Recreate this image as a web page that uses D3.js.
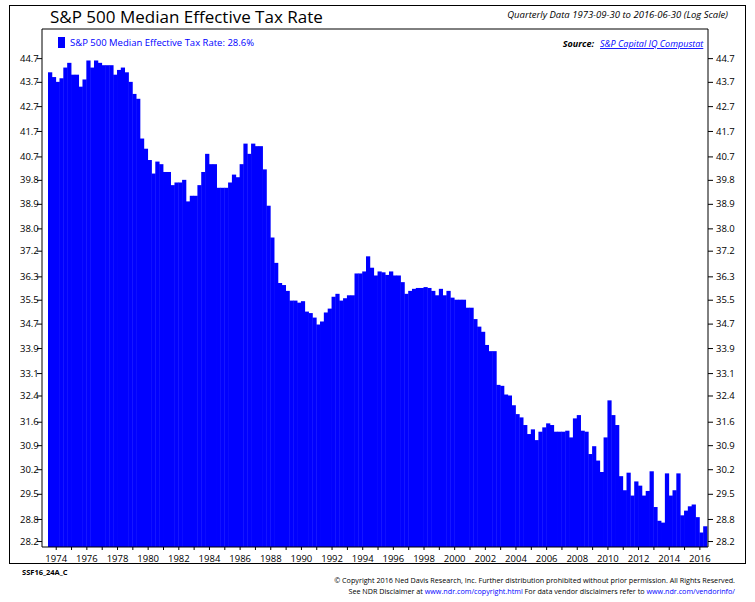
<!DOCTYPE html>
<html><head><meta charset="utf-8">
<script src="https://cdn.jsdelivr.net/npm/d3@7"></script>
<style>body{margin:0;background:#fff}svg{font-family:"Open Sans","Noto Sans",sans-serif}</style>
</head><body><svg id="c" width="755" height="602"></svg>
<script>
const values = [
44.1,43.9,43.7,43.85,44.3,44.5,44.0,44.0,43.5,43.8,44.6,44.3,44.6,44.5,44.4,44.4,44.4,44.0,44.2,44.3,
44.1,43.7,43.2,43.0,41.4,41.0,40.56,40.04,40.5,40.4,40.1,40.1,39.6,39.7,39.7,39.8,38.99,39.2,39.2,39.6,
40.1,40.8,40.4,40.4,39.5,39.5,39.5,39.7,40.0,39.9,40.4,41.2,40.8,41.2,41.1,41.1,40.2,38.83,37.67,36.77,
36.07,36.0,35.8,35.47,35.47,35.4,35.45,35.1,35.05,34.9,34.67,34.77,35.07,35.2,35.6,35.7,35.47,35.55,35.65,35.65,
36.4,36.4,36.47,37.0,36.6,36.33,36.47,36.44,36.35,36.47,36.33,36.33,36.1,35.7,35.8,35.87,35.9,35.9,35.93,35.9,
35.8,35.65,35.87,35.65,35.8,35.57,35.5,35.5,35.5,35.23,35.23,34.85,34.6,34.43,34.0,33.8,33.8,32.73,32.7,32.43,
32.4,32.1,31.83,31.73,31.5,31.23,31.37,31.05,31.3,31.43,31.55,31.5,31.3,31.3,31.3,31.33,31.13,31.7,31.8,31.33,
31.3,30.64,30.87,30.45,30.12,31.13,32.25,31.8,31.5,30.0,29.6,30.1,29.45,29.85,29.73,29.45,29.58,30.14,29.13,28.75,
28.7,30.08,29.45,29.6,30.08,28.9,29.03,29.15,29.2,28.85,28.43,28.6];
const yTicks = [44.7,43.7,42.7,41.7,40.7,39.8,38.9,38.0,37.2,36.3,35.5,34.7,33.9,33.1,32.4,31.6,30.9,30.2,29.5,28.8,28.2];
const xLabelYears = d3.range(1974,2017,2);
const startDate = new Date(1973,6,1);

const svg = d3.select("#c");
const L=42,R=708,T=29,B=547;
const x = d3.scaleTime().domain([startDate,new Date(2016,6,1)]).range([48,707]);
const y = d3.scaleLog().domain([28.04,45.96]).range([B,T]);
const qStart = i => d3.timeMonth.offset(startDate,3*i);

svg.append("rect").attr("x",9.5).attr("y",5.5).attr("width",736).attr("height",558).attr("fill","none").attr("stroke","#000");
svg.append("text").attr("x",50).attr("y",23).attr("font-size",17).attr("font-weight",500).text("S&P 500 Median Effective Tax Rate");
svg.append("text").attr("x",728).attr("y",18).attr("text-anchor","end").attr("font-size",9.5).attr("font-style","italic").text("Quarterly Data 1973-09-30 to 2016-06-30 (Log Scale)");

svg.append("g").selectAll("rect").data(values).join("rect")
  .attr("x",(d,i)=>x(qStart(i))).attr("width",(d,i)=>x(qStart(i+1))-x(qStart(i))+0.4)
  .attr("y",d=>y(d)).attr("height",d=>B-y(d)).attr("fill","#0000ff");

svg.append("path").attr("d",`M${L},${B}V${T}H${R}V${B}`).attr("fill","none").attr("stroke","#000");
svg.append("line").attr("x1",L).attr("x2",R).attr("y1",B).attr("y2",B).attr("stroke","#000");

const yl = svg.append("g").attr("transform",`translate(${L},0)`).call(d3.axisLeft(y).tickValues(yTicks).tickFormat(d3.format(".1f")).tickSize(5));
const yr = svg.append("g").attr("transform",`translate(${R},0)`).call(d3.axisRight(y).tickValues(yTicks).tickFormat(d3.format(".1f")).tickSize(5));
[yl,yr].forEach(g=>{g.select(".domain").remove();g.selectAll("text").attr("font-size",9.5).attr("font-family","'Open Sans',sans-serif");});
yl.selectAll("text").attr("x",-22).attr("text-anchor","start");
const xa = svg.append("g").attr("transform",`translate(0,${B})`).call(d3.axisBottom(x).ticks(d3.timeYear.every(1)).tickSize(3).tickFormat(d=>xLabelYears.includes(d.getFullYear())?d.getFullYear():""));
xa.select(".domain").remove();
xa.selectAll("text").attr("font-size",9.5).attr("dy","0.9em").attr("font-family","'Open Sans',sans-serif");

svg.append("rect").attr("x",58).attr("y",37).attr("width",7).attr("height",11).attr("fill","#0000ff");
svg.append("text").attr("x",70).attr("y",46).attr("font-size",9.5).attr("fill","#0000ff").text("S&P 500 Median Effective Tax Rate: 28.6%");
svg.append("text").attr("x",594).attr("y",47).attr("text-anchor","end").attr("font-size",9).attr("font-weight","bold").attr("font-style","italic").text("Source:");
svg.append("text").attr("x",600).attr("y",47).attr("font-size",9).attr("font-style","italic").attr("fill","#0000ff").attr("text-decoration","underline").text("S&P Capital IQ Compustat");

svg.append("text").attr("x",22).attr("y",575).attr("font-size",7.5).attr("font-weight","bold").text("SSF16_24A_C");
const f1=svg.append("text").attr("x",735).attr("y",583).attr("text-anchor","end").attr("font-size",7.2).text("© Copyright 2016 Ned Davis Research, Inc. Further distribution prohibited without prior permission. All Rights Reserved.");
const f2=svg.append("text").attr("x",735).attr("y",594).attr("text-anchor","end").attr("font-size",7.2);
f2.append("tspan").text("See NDR Disclaimer at ");
f2.append("tspan").attr("fill","#0000ff").text("www.ndr.com/copyright.html");
f2.append("tspan").text("   For data vendor disclaimers refer to ");
f2.append("tspan").attr("fill","#0000ff").text("www.ndr.com/vendorinfo/");
</script></body></html>
